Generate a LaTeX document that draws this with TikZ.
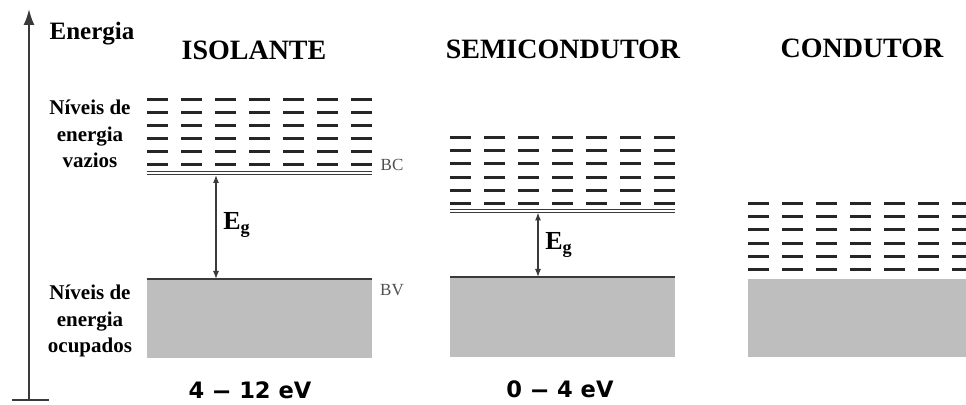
\documentclass[tikz,border=0pt]{standalone}
\usepackage{fontspec}
\usepackage{graphicx}
\setmainfont{Liberation Serif}
\newfontfamily\rangefont{DejaVu Sans}
\usepackage{tikz}
\usetikzlibrary{arrows.meta}
\definecolor{bandc}{HTML}{BEBEBE}
\definecolor{linec}{HTML}{3A3A3A}
\definecolor{tagc}{HTML}{505050}
\newcommand{\gapE}{\textbf{E}\textsubscript{\textbf{g}}}
\newcommand{\longdash}{\scalebox{1.7}[1]{–}}

\begin{document}
\begin{tikzpicture}[x=0.5pt, y=-0.5pt,
  title/.style={font=\fontsize{14}{16}\selectfont\bfseries},
  side/.style={align=center, font=\fontsize{10.5}{13.3}\selectfont\bfseries},
  rng/.style={font=\rangefont\fontsize{11.3}{13}\selectfont\bfseries},
  tag/.style={text=tagc, font=\fontsize{8.5}{10}\selectfont},
  lvl/.style={line width=1.5pt, draw=black!85},
  edge/.style={line width=0.5pt, draw=linec},
  gap/.style={line width=0.6pt, draw=linec, {Latex[length=4pt,width=3pt]}-{Latex[length=4pt,width=3pt]}}]
  \useasboundingbox (0,0) rectangle (966,405);
  % energy axis
  \coordinate (axb) at (29,400);
  \coordinate (axt) at (29,9);
  \draw[line width=1pt, draw=linec, -{Latex[length=8pt,width=5.5pt]}] (axb) -- (axt);
  \draw[line width=1pt, draw=linec] (12,400) -- (49,400);
  \node[font=\fontsize{12.5}{14}\selectfont\bfseries] (en) at (92,34) {Energia};
  % titles
  \node[title] (iso) at (254,50) {ISOLANTE};
  \node[title] (semi) at (563,49) {SEMICONDUTOR};
  \node[title] (cond) at (862,48) {CONDUTOR};
  \node[side] (vaz) at (90,134) {Níveis de\\energia\\vazios};
  \node[side] (ocu) at (90,321) {Níveis de\\energia\\ocupados};
  % isolante
  \fill[bandc] (147,279) rectangle (372,358);
  \foreach \i in {0,...,6}{\foreach \j in {0,...,5}{\draw[lvl] (147+\i*34,100+\j*13) -- ++(21,0);}}
  \draw[edge] (147,172) -- (372,172);
  \draw[edge] (147,175) -- (372,175);
  \draw[edge, line width=0.8pt] (147,279) -- (372,279);
  \coordinate (isoc) at (216,175);
  \coordinate (isov) at (216,279);
  \draw[gap] (isoc) -- (isov);
  \node[font=\fontsize{13}{15}\selectfont] (egi) at (237,225) {\gapE};
  \node[tag] (bc) at (392,165) {BC};
  \node[tag] (bv) at (392,290) {BV};
  \node[rng] (r1) at (250,390) {4 \longdash{} 12 eV};
  % semicondutor
  \fill[bandc] (450,277) rectangle (675,357);
  \foreach \i in {0,...,6}{\foreach \j in {0,...,5}{\draw[lvl] (450+\i*34,137.5+\j*13.2) -- ++(21,0);}}
  \draw[edge] (450,210) -- (675,210);
  \draw[edge] (450,212.5) -- (675,212.5);
  \draw[edge, line width=0.8pt] (450,277) -- (675,277);
  \coordinate (semc) at (538,212.5);
  \coordinate (semv) at (538,277);
  \draw[gap] (semc) -- (semv);
  \node[font=\fontsize{13}{15}\selectfont] (egs) at (559,245) {\gapE};
  \node[rng] (r2) at (560,389) {0 \longdash{} 4 eV};
  % condutor
  \fill[bandc] (748,279) rectangle (966,357);
  \foreach \i in {0,...,6}{\foreach \j in {0,...,5}{\draw[lvl] (748+\i*34,203.5+\j*13.2) -- ++(21,0);}}
\end{tikzpicture}
\end{document}
